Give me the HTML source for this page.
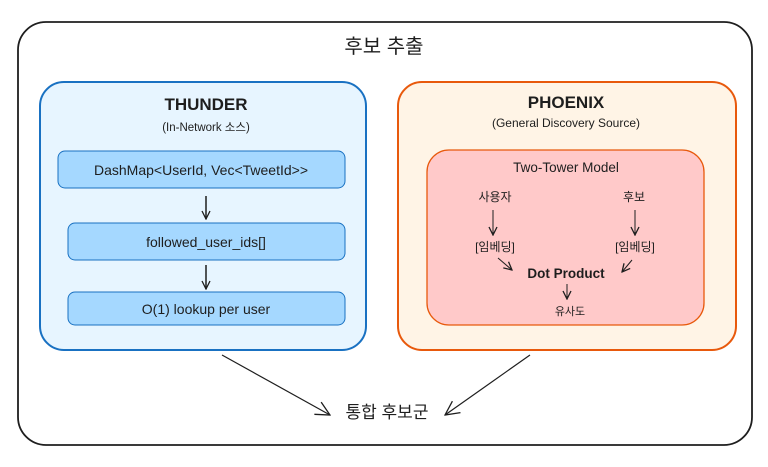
<!DOCTYPE html>
<html><head><meta charset="utf-8"><style>
body{margin:0;width:768px;height:462px;background:#fff;overflow:hidden}
svg text{font-family:"Liberation Sans","Noto Sans CJK KR",sans-serif;fill:#1e1e1e}
</style></head><body>
<svg width="768" height="462" viewBox="0 0 768 462">
<defs><marker id="a" markerWidth="10" markerHeight="10" refX="9" refY="5" orient="auto" markerUnits="userSpaceOnUse"><path d="M1,1 L9,5 L1,9" fill="none" stroke="#1e1e1e" stroke-width="1.3"/></marker>
<marker id="b" markerWidth="16" markerHeight="16" refX="15" refY="8" orient="auto" markerUnits="userSpaceOnUse"><path d="M1,1 L15,8 L1,15" fill="none" stroke="#1e1e1e" stroke-width="1.3"/></marker></defs>
<rect x="18" y="22" width="734" height="423" rx="28" fill="#fff" stroke="#1e1e1e" stroke-width="1.8"/>
<text x="384" y="53" font-size="20" text-anchor="middle">후보 추출</text>
<rect x="40" y="82" width="326" height="268" rx="24" fill="#e7f5ff" stroke="#1971c2" stroke-width="2"/>
<text x="206" y="110" font-size="17" font-weight="bold" text-anchor="middle">THUNDER</text>
<text x="206" y="131" font-size="11.5" text-anchor="middle">(In-Network 소스)</text>
<rect x="58" y="151" width="287" height="37" rx="7" fill="#a5d8ff" stroke="#1971c2" stroke-width="1"/>
<text x="201" y="175" font-size="14" text-anchor="middle">DashMap&lt;UserId, Vec&lt;TweetId&gt;&gt;</text>
<line x1="206" y1="196" x2="206" y2="219" stroke="#1e1e1e" stroke-width="1.5" marker-end="url(#a)"/>
<rect x="68" y="223" width="277" height="37" rx="7" fill="#a5d8ff" stroke="#1971c2" stroke-width="1"/>
<text x="206" y="247" font-size="14" text-anchor="middle">followed_user_ids[]</text>
<line x1="206" y1="265" x2="206" y2="289" stroke="#1e1e1e" stroke-width="1.5" marker-end="url(#a)"/>
<rect x="68" y="292" width="277" height="33" rx="7" fill="#a5d8ff" stroke="#1971c2" stroke-width="1"/>
<text x="206" y="314" font-size="14" text-anchor="middle">O(1) lookup per user</text>
<rect x="398" y="82" width="338" height="268" rx="24" fill="#fff4e6" stroke="#e8590c" stroke-width="2"/>
<text x="566" y="108" font-size="17" font-weight="bold" text-anchor="middle">PHOENIX</text>
<text x="566" y="127" font-size="12" text-anchor="middle">(General Discovery Source)</text>
<rect x="427" y="150" width="277" height="175" rx="22" fill="#ffc9c9" stroke="#e8590c" stroke-width="1.3"/>
<text x="566" y="172" font-size="13.5" text-anchor="middle">Two-Tower Model</text>
<text x="495" y="201" font-size="12" text-anchor="middle">사용자</text>
<text x="634" y="201" font-size="12" text-anchor="middle">후보</text>
<line x1="493" y1="210" x2="493" y2="235" stroke="#1e1e1e" stroke-width="1" marker-end="url(#a)"/>
<line x1="635" y1="210" x2="635" y2="235" stroke="#1e1e1e" stroke-width="1" marker-end="url(#a)"/>
<text x="495" y="251" font-size="12" text-anchor="middle">[임베딩]</text>
<text x="635" y="251" font-size="12" text-anchor="middle">[임베딩]</text>
<line x1="498" y1="258" x2="512" y2="270" stroke="#1e1e1e" stroke-width="1" marker-end="url(#a)"/>
<line x1="632" y1="260" x2="622" y2="272" stroke="#1e1e1e" stroke-width="1" marker-end="url(#a)"/>
<text x="566" y="278" font-size="13.5" font-weight="bold" text-anchor="middle">Dot Product</text>
<line x1="567" y1="284" x2="567" y2="299" stroke="#1e1e1e" stroke-width="1" marker-end="url(#a)"/>
<text x="570" y="315" font-size="11" text-anchor="middle">유사도</text>
<line x1="222" y1="355" x2="330" y2="415" stroke="#1e1e1e" stroke-width="1.2" marker-end="url(#b)"/>
<line x1="530" y1="355" x2="445" y2="415" stroke="#1e1e1e" stroke-width="1.2" marker-end="url(#b)"/>
<text x="387" y="418" font-size="17" text-anchor="middle">통합 후보군</text>
</svg>
</body></html>
